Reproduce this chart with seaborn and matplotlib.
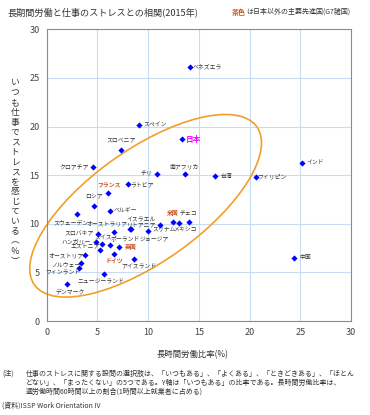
import numpy as np
import pandas as pd
import matplotlib
matplotlib.use("Agg")
import matplotlib.pyplot as plt
from matplotlib.patches import Ellipse
import seaborn as sns

# Data (x: long-hours share %, y: "always stressed" %)
countries = ["ベネズエラ", "スペイン", "日本", "スロベニア", "クロアチア", "チリ",
             "南アフリカ", "台湾", "フィリピン", "インド", "中国", "フランス",
             "ラトビア", "ロシア", "ベルギー", "スウェーデン", "オーストラリア",
             "イスラエル", "リトアニア", "ジョージア", "スリナム", "米国", "メキシコ",
             "チェコ", "スロバキア", "ハンガリー", "スイス", "ポーランド", "エストニア",
             "英国", "オーストリア", "ドイツ", "アイスランド", "ノルウェー",
             "フィンランド", "ニュージーランド", "デンマーク"]
long_hours = [14.1, 9.1, 13.3, 7.3, 4.6, 10.85,
              13.6, 16.6, 20.6, 25.2, 24.4, 6.0,
              8.0, 4.7, 6.2, 3.0, 6.6,
              8.2, 8.3, 10.0, 11.2, 12.5, 13.0,
              14.0, 5.1, 4.9, 5.45, 6.2, 5.3,
              7.1, 3.8, 6.6, 8.6, 3.4,
              3.2, 5.65, 2.0]
stress = [26.1, 20.2, 18.7, 17.6, 15.8, 15.15,
          15.1, 14.9, 14.85, 16.3, 6.5, 13.2,
          14.05, 11.85, 11.35, 11.0, 9.15,
          9.5, 9.45, 9.3, 9.9, 10.15, 10.05,
          10.15, 8.95, 8.15, 7.9, 7.8, 7.3,
          7.6, 6.75, 6.85, 6.35, 5.95,
          5.45, 4.85, 3.85]
g7_other = ["フランス", "米国", "英国", "ドイツ"]

# label offsets in pixels (dx, dy) relative to each point
label_offsets = {
    "ベネズエラ": (18, 0), "スペイン": (16, 0), "日本": (12, 0), "スロベニア": (0, 10),
    "クロアチア": (-19, 0), "チリ": (-10, 0), "南アフリカ": (0, 8), "台湾": (11, 0),
    "フィリピン": (16.5, 0), "インド": (12.5, 0), "中国": (11.5, 0), "フランス": (1.5, 8),
    "ラトビア": (14, 0), "ロシア": (0, 9), "ベルギー": (15.5, 0), "スウェーデン": (-6, -8.5),
    "オーストラリア": (-7, 9), "イスラエル": (11, 9), "リトアニア": (11, 3),
    "ジョージア": (6, -9.5), "スリナム": (4, -5.5), "米国": (-1, 9), "メキシコ": (7, -6),
    "チェコ": (0, 8), "スロバキア": (-19, 0), "ハンガリー": (-20, 0), "スイス": (1.5, 6),
    "ポーランド": (16, 6.5), "エストニア": (-15, 3), "英国": (12, 0), "オーストリア": (-19, 0),
    "ドイツ": (1, -7.5), "アイスランド": (4.5, -7), "ノルウェー": (-15, -1.5),
    "フィンランド": (-16, -4.5), "ニュージーランド": (-3, -8.5), "デンマーク": (3.5, -8.5),
}

df = pd.DataFrame({"country": countries, "hours": long_hours, "stress": stress})

sns.set_style("white")
plt.rcParams["font.family"] = ["Noto Sans CJK JP", "DejaVu Sans"]

BROWN = "#C8501E"
fig = plt.figure(figsize=(3.7, 4.15), dpi=100)
ax = fig.add_axes([46.7 / 370, 1 - 321 / 415, (351 - 46.7) / 370, (321 - 29.3) / 415])

sns.scatterplot(data=df, x="hours", y="stress", ax=ax, marker="D", s=10,
                color="#0000FF", linewidth=0, zorder=3)

ax.set_xlim(0, 30)
ax.set_ylim(0, 30)
ax.set_xticks(range(0, 31, 5))
ax.set_yticks(range(0, 31, 5))
ax.grid(True, color="#C5DCF2", linewidth=0.8)
ax.set_axisbelow(True)
for sp in ax.spines.values():
    sp.set_color("#8C8C8C")
    sp.set_linewidth(0.8)
ax.tick_params(labelsize=6.5, colors="#444444", length=2, width=0.6, pad=3)
ax.set_xlabel("")
ax.set_ylabel("")

# orange ellipse around the main cluster (drawn past the axes like the original)
ax.add_patch(Ellipse((9.75, 11.85), 27.3, 11.4, angle=37, fill=False,
                     edgecolor="#F0A028", linewidth=1.2, zorder=2, clip_on=False))

for name, x, y in zip(countries, long_hours, stress):
    dx, dy = label_offsets[name]
    color, size, weight = "#333333", 4.2, "normal"
    if name in g7_other:
        color, weight = BROWN, "bold"
    if name == "日本":
        color, size, weight = "#FF00FF", 5.5, "bold"
    ax.annotate(name, (x, y), xytext=(dx, dy), textcoords="offset pixels",
                ha="center", va="center", fontsize=size, color=color,
                fontweight=weight, zorder=4)

# title and colour note
fig.text(7 / 370, 1 - 12 / 415, "長期間労働と仕事のストレスとの相関(2015年)",
         fontsize=6.6, color="#333333", va="center", ha="left")
t1 = fig.text(232 / 370, 1 - 12 / 415, "茶色", fontsize=5, color=BROWN,
              fontweight="bold", va="center", ha="left")
ax.annotate("は日本以外の主要先進国(G7諸国)", xy=(1, 0.5), xycoords=t1,
            fontsize=5, color="#333333", va="center", ha="left",
            annotation_clip=False)

# vertical y label
ylab = "いつも仕事でストレスを感じている︵％︶"
fig.text(15 / 370, 1 - 172 / 415, "\n".join(ylab), fontsize=6.3,
         color="#333333", ha="center", va="center", linespacing=1.13)

fig.text(193 / 370, 1 - 355 / 415, "長時間労働比率(%)", fontsize=6,
         color="#333333", ha="center", va="center")

notes = ["仕事のストレスに関する設問の選択肢は、「いつもある」、「よくある」、「ときどきある」、「ほとん",
         "どない」、「まったくない」の5つである。Y軸は「いつもある」の比率である。長時間労働比率は、",
         "週労働時間60時間以上の割合(1時間以上就業者に占める)"]
fig.text(2 / 370, 1 - 374 / 415, "(注)", fontsize=5, color="#333333", va="center")
for i, line in enumerate(notes):
    fig.text(26 / 370, 1 - (374 + 9 * i) / 415, line, fontsize=5,
             color="#333333", va="center")
fig.text(2 / 370, 1 - 406 / 415, "(資料)ISSP Work Orientation IV", fontsize=5,
         color="#333333", va="center")

fig.savefig("out.png", dpi=100)
